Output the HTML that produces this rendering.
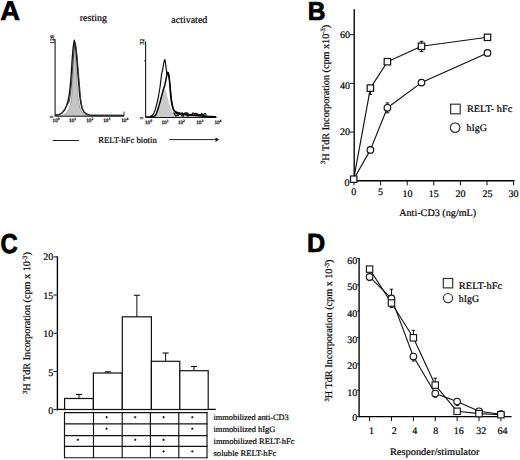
<!DOCTYPE html>
<html><head><meta charset="utf-8"><style>
html,body{margin:0;padding:0;background:#fff;}
body{width:520px;height:460px;overflow:hidden;}
svg{display:block;}
</style></head><body>
<svg width="520" height="460" viewBox="0 0 520 460" fill="#000" text-rendering="geometricPrecision">
<text font-size="27.10" font-family="'Liberation Sans', sans-serif" font-weight="bold" text-rendering="geometricPrecision" stroke="#000" stroke-width="0.69" stroke-linejoin="round" transform="translate(0.33 19.79) rotate(0.01) scale(1.012 1)">A</text>
<text font-size="25.94" font-family="'Liberation Sans', sans-serif" font-weight="bold" text-rendering="geometricPrecision" stroke="#000" stroke-width="0.74" stroke-linejoin="round" transform="translate(307.73 19.55) rotate(0.01) scale(0.948 1)">B</text>
<text font-size="27.32" font-family="'Liberation Sans', sans-serif" font-weight="bold" text-rendering="geometricPrecision" stroke="#000" stroke-width="0.80" stroke-linejoin="round" transform="translate(0.60 252.58) rotate(0.01) scale(0.873 1)">C</text>
<text font-size="26.23" font-family="'Liberation Sans', sans-serif" font-weight="bold" text-rendering="geometricPrecision" stroke="#000" stroke-width="0.73" stroke-linejoin="round" transform="translate(307.08 252.45) rotate(0.01) scale(0.962 1)">D</text>
<text x="79.8" y="20.7" font-size="10" text-anchor="start" font-family="'Liberation Serif', serif" font-weight="normal" textLength="27.1" lengthAdjust="spacingAndGlyphs" stroke="#000" stroke-width="0.2" >resting</text>
<text x="171.3" y="23.4" font-size="10" text-anchor="start" font-family="'Liberation Serif', serif" font-weight="normal" textLength="36" lengthAdjust="spacingAndGlyphs" stroke="#000" stroke-width="0.2" >activated</text>
<line x1="55.1" y1="39.3" x2="55.1" y2="116.1" stroke="#1a1a1a" stroke-width="1.1"/>
<line x1="55.1" y1="116.1" x2="124" y2="116.1" stroke="#1a1a1a" stroke-width="1.1"/>
<line x1="53.5" y1="39.3" x2="55.1" y2="39.3" stroke="#222" stroke-width="0.9"/>
<line x1="124" y1="116.1" x2="124" y2="111.6" stroke="#222" stroke-width="0.9"/>
<text x="0" y="0" font-size="5.60" font-family="'Liberation Serif', serif" stroke="#111" stroke-width="0.25" fill="#111" transform="translate(53.8 43.7) rotate(-90)" textLength="8.4" lengthAdjust="spacingAndGlyphs">128</text>
<text x="0" y="0" font-size="4.6" font-family="'Liberation Serif', serif" stroke="#222" stroke-width="0.2" fill="#222" transform="translate(52.5 117.89999999999999) rotate(-90)">0</text>
<text x="52.6" y="122.4" font-size="5.2" font-family="'Liberation Serif', serif" stroke="#222" stroke-width="0.3" fill="#222">10<tspan dy="-2" font-size="3.6">0</tspan></text>
<text x="69.0" y="122.4" font-size="5.2" font-family="'Liberation Serif', serif" stroke="#222" stroke-width="0.3" fill="#222">10<tspan dy="-2" font-size="3.6">1</tspan></text>
<text x="86.2" y="122.4" font-size="5.2" font-family="'Liberation Serif', serif" stroke="#222" stroke-width="0.3" fill="#222">10<tspan dy="-2" font-size="3.6">2</tspan></text>
<text x="103.2" y="122.4" font-size="5.2" font-family="'Liberation Serif', serif" stroke="#222" stroke-width="0.3" fill="#222">10<tspan dy="-2" font-size="3.6">3</tspan></text>
<text x="121.2" y="122.4" font-size="5.2" font-family="'Liberation Serif', serif" stroke="#222" stroke-width="0.3" fill="#222">10<tspan dy="-2" font-size="3.6">4</tspan></text>
<line x1="145.6" y1="41.4" x2="145.6" y2="117.4" stroke="#1a1a1a" stroke-width="1.1"/>
<line x1="145.6" y1="117.4" x2="216.6" y2="117.4" stroke="#1a1a1a" stroke-width="1.1"/>
<line x1="144.0" y1="60.9" x2="145.6" y2="60.9" stroke="#222" stroke-width="0.9"/>
<text x="0" y="0" font-size="6.00" font-family="'Liberation Serif', serif" stroke="#111" stroke-width="0.25" fill="#111" transform="translate(144.3 44.7) rotate(-90)" textLength="6.0" lengthAdjust="spacingAndGlyphs">32</text>
<text x="0" y="0" font-size="4.6" font-family="'Liberation Serif', serif" stroke="#222" stroke-width="0.2" fill="#222" transform="translate(143.0 119.2) rotate(-90)">0</text>
<text x="145.0" y="124.2" font-size="5.2" font-family="'Liberation Serif', serif" stroke="#222" stroke-width="0.3" fill="#222">10<tspan dy="-2" font-size="3.6">0</tspan></text>
<text x="161.5" y="124.2" font-size="5.2" font-family="'Liberation Serif', serif" stroke="#222" stroke-width="0.3" fill="#222">10<tspan dy="-2" font-size="3.6">1</tspan></text>
<text x="177.89999999999998" y="124.2" font-size="5.2" font-family="'Liberation Serif', serif" stroke="#222" stroke-width="0.3" fill="#222">10<tspan dy="-2" font-size="3.6">2</tspan></text>
<text x="196.2" y="124.2" font-size="5.2" font-family="'Liberation Serif', serif" stroke="#222" stroke-width="0.3" fill="#222">10<tspan dy="-2" font-size="3.6">3</tspan></text>
<text x="214.39999999999998" y="124.2" font-size="5.2" font-family="'Liberation Serif', serif" stroke="#222" stroke-width="0.3" fill="#222">10<tspan dy="-2" font-size="3.6">4</tspan></text>
<polygon points="62,115.6 66,113.5 68.5,110 70.5,104 71.8,95 72.6,82 73.3,65 73.9,50 74.4,42 75.1,48 75.8,60 76.6,76 77.4,90 78.4,100 79.7,107 81.5,111.5 84,114 88,115.6" fill="#c4c4c4" stroke="#777" stroke-width="0.5"/>
<polyline points="55.00,115.30 59.00,114.60 62.00,113.00 64.50,110.00 66.50,106.00 68.30,100.00 69.50,93.00 70.50,84.00 71.40,72.00 72.30,58.00 73.20,47.00 74.30,40.30 75.30,45.00 76.30,54.00 77.30,66.00 78.20,77.00 79.00,87.00 79.80,96.00 80.80,103.00 82.20,108.50 84.00,112.00 86.50,114.20 90.00,115.20 124.00,115.40" stroke="#111" stroke-width="1.4" fill="none" stroke-linejoin="round"/>
<polyline points="55.00,115.30 59.00,114.60 62.00,113.00 64.50,110.00 66.50,106.00 69.10,102.00 70.30,95.00 71.30,86.00 72.20,74.00 73.10,60.00 74.00,49.00 75.10,42.30 76.10,47.00 77.10,56.00 78.10,68.00 79.00,79.00 79.80,89.00 80.60,98.00 81.60,105.00 82.20,108.50 84.00,112.00 86.50,114.20 90.00,115.20 124.00,115.40" stroke="#333" stroke-width="0.9" fill="none" stroke-linejoin="round"/>
<polygon points="155.6,117 157.3,112 158.9,106.5 160.3,101.5 161.6,96.5 163.2,91 164.4,88.5 165.3,89.5 166.3,92.5 167.5,97 168.8,102 170.2,106.5 171.8,110.5 173.6,113.8 176,116 179,117" fill="#cbcbcb"/>
<polyline points="173.50,112.50 174.77,114.41 175.88,116.08 176.54,115.74 177.38,114.57 178.16,115.68 179.28,114.38 180.25,114.38 181.28,114.90 182.41,116.07 183.31,116.10 184.10,114.44 185.06,114.36 185.78,115.03 186.74,114.58 187.37,115.86 188.16,116.03 189.30,114.98 190.17,115.24 191.16,115.37 192.09,115.42 193.26,115.21 194.12,115.60 194.86,114.84 196.05,115.24 196.98,114.32 197.83,115.34 198.44,115.41 199.42,114.41 200.39,115.14 201.40,114.93 202.42,115.63 203.04,114.41 205.00,116.60" stroke="#111" stroke-width="1.3" fill="none" stroke-linejoin="round"/>
<polyline points="146.00,116.90 150.00,116.60 152.50,115.30 154.00,113.00 155.30,109.50 156.50,105.00 157.50,101.00 158.30,97.50 159.20,92.00 160.10,86.50 160.80,81.00 161.40,75.50 161.70,73.00 162.00,72.50 162.80,69.00 163.60,64.00 164.30,60.50 164.80,59.50 165.40,62.00 166.10,68.00 166.80,73.50 167.50,72.80 168.20,72.50 168.90,75.50 169.50,80.00 170.20,86.00 170.90,94.00 171.60,100.00 172.30,104.50 173.10,108.00 173.90,110.60 175.00,112.00 175.74,113.31 176.56,113.45 177.54,112.41 178.15,113.97 178.90,112.79 180.10,113.29 181.20,113.34 182.19,112.72 183.17,114.18 184.08,113.95 185.08,112.63 186.14,113.72 186.92,112.62 188.04,113.54 189.07,114.38 190.10,114.50 190.94,114.28 191.80,114.58 192.93,112.93 193.61,113.19 194.79,113.67 195.77,113.43 196.67,113.62 197.48,114.04 198.43,114.71 199.44,114.79 200.56,114.95 201.56,113.32 202.67,114.96 203.82,114.20 204.85,113.52 205.94,114.28 206.00,116.00 208.00,116.60 212.00,116.90 216.00,117.00" stroke="#111" stroke-width="1.2" fill="none" stroke-linejoin="round"/>
<polyline points="150.00,117.00 153.00,116.60 155.60,115.50 157.30,111.00 158.90,105.90 160.30,101.00 161.60,96.00 163.20,90.10 164.80,85.20 165.90,79.80 167.00,74.30 167.60,72.30 168.30,73.00 169.20,78.00 169.90,86.00 170.60,95.00 171.30,101.00 172.30,106.00 173.40,109.50 175.00,111.50 178.00,113.00 182.00,114.00 188.00,114.80 196.00,115.60 204.00,116.20 216.00,116.80" stroke="#000" stroke-width="1.5" fill="none" stroke-linejoin="round"/>
<line x1="52.8" y1="140.5" x2="78.8" y2="140.5" stroke="#222" stroke-width="1"/>
<text x="98.2" y="142.5" font-size="8.8" text-anchor="start" font-family="'Liberation Serif', serif" font-weight="normal" textLength="58.6" lengthAdjust="spacingAndGlyphs" stroke="#000" stroke-width="0.2" >RELT-hFc biotin</text>
<line x1="169.2" y1="139.6" x2="217" y2="139.6" stroke="#222" stroke-width="1"/>
<polygon points="215.5,137.3 219.3,139.6 215.5,141.9" fill="#222"/>
<line x1="354.2" y1="9.2" x2="354.2" y2="181.3" stroke="#000" stroke-width="1.35"/>
<line x1="353.5" y1="180.7" x2="514.5" y2="180.7" stroke="#000" stroke-width="1.35"/>
<line x1="350" y1="180.8" x2="354" y2="180.8" stroke="#111" stroke-width="1"/>
<line x1="350" y1="132.10000000000002" x2="354" y2="132.10000000000002" stroke="#111" stroke-width="1"/>
<line x1="350" y1="83.4" x2="354" y2="83.4" stroke="#111" stroke-width="1"/>
<line x1="350" y1="34.70000000000002" x2="354" y2="34.70000000000002" stroke="#111" stroke-width="1"/>
<text x="349.9" y="38.3" font-size="10" text-anchor="end" font-family="'Liberation Serif', serif" font-weight="normal" stroke="#000" stroke-width="0.2" >60</text>
<text x="349.9" y="88.7" font-size="10" text-anchor="end" font-family="'Liberation Serif', serif" font-weight="normal" stroke="#000" stroke-width="0.2" >40</text>
<text x="349.9" y="135.3" font-size="10" text-anchor="end" font-family="'Liberation Serif', serif" font-weight="normal" stroke="#000" stroke-width="0.2" >20</text>
<text x="349.6" y="186.2" font-size="10" text-anchor="end" font-family="'Liberation Serif', serif" font-weight="normal" stroke="#000" stroke-width="0.2" >0</text>
<line x1="354.0" y1="180.8" x2="354.0" y2="185.4" stroke="#111" stroke-width="1"/>
<line x1="380.6" y1="180.8" x2="380.6" y2="185.4" stroke="#111" stroke-width="1"/>
<line x1="407.2" y1="180.8" x2="407.2" y2="185.4" stroke="#111" stroke-width="1"/>
<line x1="433.8" y1="180.8" x2="433.8" y2="185.4" stroke="#111" stroke-width="1"/>
<line x1="460.4" y1="180.8" x2="460.4" y2="185.4" stroke="#111" stroke-width="1"/>
<line x1="487.0" y1="180.8" x2="487.0" y2="185.4" stroke="#111" stroke-width="1"/>
<line x1="513.6" y1="180.8" x2="513.6" y2="185.4" stroke="#111" stroke-width="1"/>
<text x="353.7" y="194.5" font-size="10" text-anchor="middle" font-family="'Liberation Serif', serif" font-weight="normal" stroke="#000" stroke-width="0.2" >0</text>
<text x="380.6" y="194.5" font-size="10" text-anchor="middle" font-family="'Liberation Serif', serif" font-weight="normal" stroke="#000" stroke-width="0.2" >5</text>
<text x="407.5" y="196.6" font-size="10" text-anchor="middle" font-family="'Liberation Serif', serif" font-weight="normal" stroke="#000" stroke-width="0.2" >10</text>
<text x="433.8" y="196.6" font-size="10" text-anchor="middle" font-family="'Liberation Serif', serif" font-weight="normal" stroke="#000" stroke-width="0.2" >15</text>
<text x="460.6" y="196.6" font-size="10" text-anchor="middle" font-family="'Liberation Serif', serif" font-weight="normal" stroke="#000" stroke-width="0.2" >20</text>
<text x="487.6" y="196.6" font-size="10" text-anchor="middle" font-family="'Liberation Serif', serif" font-weight="normal" stroke="#000" stroke-width="0.2" >25</text>
<text x="513.6" y="196.6" font-size="10" text-anchor="middle" font-family="'Liberation Serif', serif" font-weight="normal" stroke="#000" stroke-width="0.2" >30</text>
<text x="399.2" y="216.4" font-size="10" text-anchor="start" font-family="'Liberation Serif', serif" font-weight="normal" textLength="77" lengthAdjust="spacingAndGlyphs" stroke="#000" stroke-width="0.2" >Anti-CD3 (ng/mL)</text>
<text x="0" y="0" font-size="10" font-family="'Liberation Serif', serif" stroke="#000" stroke-width="0.2" transform="translate(328.7 164) rotate(-90)" textLength="139.2" lengthAdjust="spacingAndGlyphs"><tspan font-size="6.5" dy="-3.5">3</tspan><tspan dy="3.5">H TdR Incorporation (cpm x10</tspan><tspan font-size="6.5" dy="-3.5">-3</tspan><tspan dy="3.5">)</tspan></text>
<polyline points="353.70,179.20 370.40,88.10 387.40,61.70 421.50,46.30 487.50,37.30" stroke="#111" stroke-width="1.15" fill="none" stroke-linejoin="round"/>
<polyline points="353.70,179.20 370.40,149.90 387.40,107.80 421.50,82.60 487.50,52.90" stroke="#111" stroke-width="1.15" fill="none" stroke-linejoin="round"/>
<line x1="370.4" y1="88.1" x2="370.4" y2="94.4" stroke="#111" stroke-width="1"/>
<line x1="368.7" y1="94.4" x2="372.09999999999997" y2="94.4" stroke="#111" stroke-width="1"/>
<line x1="421.5" y1="46.3" x2="421.5" y2="41.3" stroke="#111" stroke-width="1"/>
<line x1="419.6" y1="41.3" x2="423.4" y2="41.3" stroke="#111" stroke-width="1"/>
<line x1="421.5" y1="46.3" x2="421.5" y2="51.5" stroke="#111" stroke-width="1"/>
<line x1="419.6" y1="51.5" x2="423.4" y2="51.5" stroke="#111" stroke-width="1"/>
<line x1="387.4" y1="107.8" x2="387.4" y2="102.9" stroke="#111" stroke-width="1"/>
<line x1="385.59999999999997" y1="102.9" x2="389.2" y2="102.9" stroke="#111" stroke-width="1"/>
<line x1="387.4" y1="107.8" x2="387.4" y2="112.8" stroke="#111" stroke-width="1"/>
<line x1="385.59999999999997" y1="112.8" x2="389.2" y2="112.8" stroke="#111" stroke-width="1"/>
<rect x="350.50" y="176.00" width="6.4" height="6.4" fill="#fff" stroke="#111" stroke-width="1.2"/>
<rect x="367.20" y="84.90" width="6.4" height="6.4" fill="#fff" stroke="#111" stroke-width="1.2"/>
<rect x="384.20" y="58.50" width="6.4" height="6.4" fill="#fff" stroke="#111" stroke-width="1.2"/>
<rect x="418.30" y="43.10" width="6.4" height="6.4" fill="#fff" stroke="#111" stroke-width="1.2"/>
<rect x="484.30" y="34.10" width="6.4" height="6.4" fill="#fff" stroke="#111" stroke-width="1.2"/>
<circle cx="370.40" cy="149.90" r="3.3" fill="#fff" stroke="#111" stroke-width="1.2"/>
<circle cx="387.40" cy="107.80" r="3.3" fill="#fff" stroke="#111" stroke-width="1.2"/>
<circle cx="421.50" cy="82.60" r="3.3" fill="#fff" stroke="#111" stroke-width="1.2"/>
<circle cx="487.50" cy="52.90" r="3.3" fill="#fff" stroke="#111" stroke-width="1.2"/>
<rect x="450.60" y="104.20" width="9.6" height="9.6" fill="#fff" stroke="#333" stroke-width="1.2"/>
<text x="466.9" y="112.2" font-size="10" text-anchor="start" font-family="'Liberation Serif', serif" font-weight="normal" textLength="45.4" lengthAdjust="spacingAndGlyphs" stroke="#000" stroke-width="0.2" >RELT- hFc</text>
<circle cx="455.10" cy="127.60" r="4.8" fill="#fff" stroke="#333" stroke-width="1.2"/>
<text x="466.5" y="130.7" font-size="10" text-anchor="start" font-family="'Liberation Serif', serif" font-weight="normal" textLength="20.5" lengthAdjust="spacingAndGlyphs" stroke="#000" stroke-width="0.2" >hIgG</text>
<line x1="57.4" y1="256.3" x2="57.4" y2="410.4" stroke="#000" stroke-width="1.35"/>
<line x1="56.8" y1="409.4" x2="215.8" y2="409.4" stroke="#000" stroke-width="1.3"/>
<line x1="53.5" y1="409.6" x2="57.4" y2="409.6" stroke="#111" stroke-width="1"/>
<line x1="53.5" y1="371.425" x2="57.4" y2="371.425" stroke="#111" stroke-width="1"/>
<line x1="53.5" y1="333.25" x2="57.4" y2="333.25" stroke="#111" stroke-width="1"/>
<line x1="53.5" y1="295.07500000000005" x2="57.4" y2="295.07500000000005" stroke="#111" stroke-width="1"/>
<line x1="53.5" y1="256.90000000000003" x2="57.4" y2="256.90000000000003" stroke="#111" stroke-width="1"/>
<text x="53.3" y="260.0" font-size="10" text-anchor="end" font-family="'Liberation Serif', serif" font-weight="normal" stroke="#000" stroke-width="0.2" >20</text>
<text x="53.3" y="298.5" font-size="10" text-anchor="end" font-family="'Liberation Serif', serif" font-weight="normal" stroke="#000" stroke-width="0.2" >15</text>
<text x="53.3" y="337.2" font-size="10" text-anchor="end" font-family="'Liberation Serif', serif" font-weight="normal" stroke="#000" stroke-width="0.2" >10</text>
<text x="53.3" y="376.1" font-size="10" text-anchor="end" font-family="'Liberation Serif', serif" font-weight="normal" stroke="#000" stroke-width="0.2" >5</text>
<text x="53.3" y="414.3" font-size="10" text-anchor="end" font-family="'Liberation Serif', serif" font-weight="normal" stroke="#000" stroke-width="0.2" >0</text>
<rect x="64.6" y="398.5" width="28.80000000000001" height="11.0" fill="#fff" stroke="#111" stroke-width="1.2"/>
<line x1="79.0" y1="398.5" x2="79.0" y2="394.4" stroke="#111" stroke-width="1"/>
<line x1="76.0" y1="394.4" x2="82.0" y2="394.4" stroke="#111" stroke-width="1.1"/>
<rect x="93.4" y="373" width="28.89999999999999" height="36.5" fill="#fff" stroke="#111" stroke-width="1.2"/>
<line x1="107.85" y1="373" x2="107.85" y2="371.8" stroke="#111" stroke-width="1"/>
<line x1="104.85" y1="371.8" x2="110.85" y2="371.8" stroke="#111" stroke-width="1.1"/>
<rect x="122.3" y="316.8" width="29.10000000000001" height="92.69999999999999" fill="#fff" stroke="#111" stroke-width="1.2"/>
<line x1="136.85" y1="316.8" x2="136.85" y2="295.3" stroke="#111" stroke-width="1"/>
<line x1="133.85" y1="295.3" x2="139.85" y2="295.3" stroke="#111" stroke-width="1.1"/>
<rect x="151.4" y="361.3" width="28.400000000000006" height="48.19999999999999" fill="#fff" stroke="#111" stroke-width="1.2"/>
<line x1="165.60000000000002" y1="361.3" x2="165.60000000000002" y2="353" stroke="#111" stroke-width="1"/>
<line x1="162.60000000000002" y1="353" x2="168.60000000000002" y2="353" stroke="#111" stroke-width="1.1"/>
<rect x="179.8" y="370.7" width="28.399999999999977" height="38.80000000000001" fill="#fff" stroke="#111" stroke-width="1.2"/>
<line x1="194.0" y1="370.7" x2="194.0" y2="366.5" stroke="#111" stroke-width="1"/>
<line x1="191.0" y1="366.5" x2="197.0" y2="366.5" stroke="#111" stroke-width="1.1"/>
<line x1="64.5" y1="412.1" x2="64.5" y2="458.2" stroke="#111" stroke-width="1.15"/>
<line x1="93.5" y1="412.1" x2="93.5" y2="458.2" stroke="#111" stroke-width="1.15"/>
<line x1="122.2" y1="412.1" x2="122.2" y2="458.2" stroke="#111" stroke-width="1.15"/>
<line x1="150.4" y1="412.1" x2="150.4" y2="458.2" stroke="#111" stroke-width="1.15"/>
<line x1="178.8" y1="412.1" x2="178.8" y2="458.2" stroke="#111" stroke-width="1.15"/>
<line x1="207.0" y1="412.1" x2="207.0" y2="458.2" stroke="#111" stroke-width="1.15"/>
<line x1="64.0" y1="412.6" x2="207.5" y2="412.6" stroke="#111" stroke-width="1.15"/>
<line x1="64.0" y1="423.9" x2="207.5" y2="423.9" stroke="#111" stroke-width="1.15"/>
<line x1="64.0" y1="435.6" x2="207.5" y2="435.6" stroke="#111" stroke-width="1.15"/>
<line x1="64.0" y1="446.3" x2="207.5" y2="446.3" stroke="#111" stroke-width="1.15"/>
<line x1="64.0" y1="457.7" x2="207.5" y2="457.7" stroke="#111" stroke-width="1.15"/>
<line x1="105.39999999999999" y1="417.2" x2="107.8" y2="417.2" stroke="#111" stroke-width="0.9"/>
<line x1="106.6" y1="416.0" x2="106.6" y2="418.4" stroke="#111" stroke-width="0.9"/>
<line x1="134.0" y1="417.2" x2="136.39999999999998" y2="417.2" stroke="#111" stroke-width="0.9"/>
<line x1="135.2" y1="416.0" x2="135.2" y2="418.4" stroke="#111" stroke-width="0.9"/>
<line x1="162.4" y1="417.2" x2="164.79999999999998" y2="417.2" stroke="#111" stroke-width="0.9"/>
<line x1="163.6" y1="416.0" x2="163.6" y2="418.4" stroke="#111" stroke-width="0.9"/>
<line x1="191.10000000000002" y1="417.2" x2="193.5" y2="417.2" stroke="#111" stroke-width="0.9"/>
<line x1="192.3" y1="416.0" x2="192.3" y2="418.4" stroke="#111" stroke-width="0.9"/>
<line x1="105.39999999999999" y1="428.7" x2="107.8" y2="428.7" stroke="#111" stroke-width="0.9"/>
<line x1="106.6" y1="427.5" x2="106.6" y2="429.9" stroke="#111" stroke-width="0.9"/>
<line x1="191.10000000000002" y1="428.7" x2="193.5" y2="428.7" stroke="#111" stroke-width="0.9"/>
<line x1="192.3" y1="427.5" x2="192.3" y2="429.9" stroke="#111" stroke-width="0.9"/>
<line x1="76.7" y1="439.8" x2="79.10000000000001" y2="439.8" stroke="#111" stroke-width="0.9"/>
<line x1="77.9" y1="438.6" x2="77.9" y2="441.0" stroke="#111" stroke-width="0.9"/>
<line x1="134.0" y1="439.8" x2="136.39999999999998" y2="439.8" stroke="#111" stroke-width="0.9"/>
<line x1="135.2" y1="438.6" x2="135.2" y2="441.0" stroke="#111" stroke-width="0.9"/>
<line x1="162.4" y1="439.8" x2="164.79999999999998" y2="439.8" stroke="#111" stroke-width="0.9"/>
<line x1="163.6" y1="438.6" x2="163.6" y2="441.0" stroke="#111" stroke-width="0.9"/>
<line x1="162.4" y1="451.4" x2="164.79999999999998" y2="451.4" stroke="#111" stroke-width="0.9"/>
<line x1="163.6" y1="450.2" x2="163.6" y2="452.59999999999997" stroke="#111" stroke-width="0.9"/>
<line x1="191.10000000000002" y1="451.4" x2="193.5" y2="451.4" stroke="#111" stroke-width="0.9"/>
<line x1="192.3" y1="450.2" x2="192.3" y2="452.59999999999997" stroke="#111" stroke-width="0.9"/>
<text x="213.5" y="420" font-size="8.3" text-anchor="start" font-family="'Liberation Serif', serif" font-weight="normal" textLength="75.3" lengthAdjust="spacingAndGlyphs" stroke="#000" stroke-width="0.2" >immobilized anti-CD3</text>
<text x="213.5" y="432.3" font-size="8.3" text-anchor="start" font-family="'Liberation Serif', serif" font-weight="normal" textLength="61.9" lengthAdjust="spacingAndGlyphs" stroke="#000" stroke-width="0.2" >immobilized hIgG</text>
<text x="213.5" y="444.2" font-size="8.3" text-anchor="start" font-family="'Liberation Serif', serif" font-weight="normal" textLength="81.1" lengthAdjust="spacingAndGlyphs" stroke="#000" stroke-width="0.2" >immobilized RELT-hFc</text>
<text x="213.5" y="455.8" font-size="8.3" text-anchor="start" font-family="'Liberation Serif', serif" font-weight="normal" textLength="62.8" lengthAdjust="spacingAndGlyphs" stroke="#000" stroke-width="0.2" >soluble RELT-hFc</text>
<text x="0" y="0" font-size="10" font-family="'Liberation Serif', serif" stroke="#000" stroke-width="0.2" transform="translate(30.3 394) rotate(-90)" textLength="141.8" lengthAdjust="spacingAndGlyphs"><tspan font-size="6.5" dy="-3.5">3</tspan><tspan dy="3.5">H TdR Incorporation (cpm x 10</tspan><tspan font-size="6.5" dy="-3.5">-3</tspan><tspan dy="3.5">)</tspan></text>
<line x1="359.1" y1="258.0" x2="359.1" y2="417.2" stroke="#000" stroke-width="1.35"/>
<line x1="358.5" y1="416.6" x2="511.6" y2="416.6" stroke="#000" stroke-width="1.35"/>
<line x1="357.2" y1="416.5" x2="359.2" y2="416.5" stroke="#111" stroke-width="1"/>
<text x="357.2" y="420.7" font-size="10" text-anchor="end" font-family="'Liberation Serif', serif" font-weight="normal" stroke="#000" stroke-width="0.2" >0</text>
<line x1="357.2" y1="390.15" x2="359.2" y2="390.15" stroke="#111" stroke-width="1"/>
<text x="357.2" y="395.54999999999995" font-size="10" text-anchor="end" font-family="'Liberation Serif', serif" font-weight="normal" stroke="#000" stroke-width="0.2" >10</text>
<line x1="357.2" y1="363.8" x2="359.2" y2="363.8" stroke="#111" stroke-width="1"/>
<text x="357.2" y="369.2" font-size="10" text-anchor="end" font-family="'Liberation Serif', serif" font-weight="normal" stroke="#000" stroke-width="0.2" >20</text>
<line x1="357.2" y1="337.45" x2="359.2" y2="337.45" stroke="#111" stroke-width="1"/>
<text x="357.2" y="342.84999999999997" font-size="10" text-anchor="end" font-family="'Liberation Serif', serif" font-weight="normal" stroke="#000" stroke-width="0.2" >30</text>
<line x1="357.2" y1="311.1" x2="359.2" y2="311.1" stroke="#111" stroke-width="1"/>
<text x="357.2" y="316.5" font-size="10" text-anchor="end" font-family="'Liberation Serif', serif" font-weight="normal" stroke="#000" stroke-width="0.2" >40</text>
<line x1="357.2" y1="284.75" x2="359.2" y2="284.75" stroke="#111" stroke-width="1"/>
<text x="357.2" y="290.15" font-size="10" text-anchor="end" font-family="'Liberation Serif', serif" font-weight="normal" stroke="#000" stroke-width="0.2" >50</text>
<line x1="357.2" y1="258.4" x2="359.2" y2="258.4" stroke="#111" stroke-width="1"/>
<text x="357.2" y="263.79999999999995" font-size="10" text-anchor="end" font-family="'Liberation Serif', serif" font-weight="normal" stroke="#000" stroke-width="0.2" >60</text>
<line x1="369.6" y1="416.5" x2="369.6" y2="421.2" stroke="#111" stroke-width="1"/>
<text x="371.5" y="433.5" font-size="10" text-anchor="middle" font-family="'Liberation Serif', serif" font-weight="normal" stroke="#000" stroke-width="0.2" >1</text>
<line x1="391.48" y1="416.5" x2="391.48" y2="421.2" stroke="#111" stroke-width="1"/>
<text x="394.3" y="433.5" font-size="10" text-anchor="middle" font-family="'Liberation Serif', serif" font-weight="normal" stroke="#000" stroke-width="0.2" >2</text>
<line x1="413.36" y1="416.5" x2="413.36" y2="421.2" stroke="#111" stroke-width="1"/>
<text x="414.8" y="433.5" font-size="10" text-anchor="middle" font-family="'Liberation Serif', serif" font-weight="normal" stroke="#000" stroke-width="0.2" >4</text>
<line x1="435.24" y1="416.5" x2="435.24" y2="421.2" stroke="#111" stroke-width="1"/>
<text x="435.8" y="433.5" font-size="10" text-anchor="middle" font-family="'Liberation Serif', serif" font-weight="normal" stroke="#000" stroke-width="0.2" >8</text>
<line x1="457.12" y1="416.5" x2="457.12" y2="421.2" stroke="#111" stroke-width="1"/>
<text x="458.8" y="433.5" font-size="10" text-anchor="middle" font-family="'Liberation Serif', serif" font-weight="normal" stroke="#000" stroke-width="0.2" >16</text>
<line x1="479.0" y1="416.5" x2="479.0" y2="421.2" stroke="#111" stroke-width="1"/>
<text x="481.3" y="433.5" font-size="10" text-anchor="middle" font-family="'Liberation Serif', serif" font-weight="normal" stroke="#000" stroke-width="0.2" >32</text>
<line x1="500.88" y1="416.5" x2="500.88" y2="421.2" stroke="#111" stroke-width="1"/>
<text x="502.4" y="433.5" font-size="10" text-anchor="middle" font-family="'Liberation Serif', serif" font-weight="normal" stroke="#000" stroke-width="0.2" >64</text>
<text x="389.9" y="454.7" font-size="10" text-anchor="start" font-family="'Liberation Serif', serif" font-weight="normal" textLength="89.6" lengthAdjust="spacingAndGlyphs" stroke="#000" stroke-width="0.2" >Responder/stimulator</text>
<text x="0" y="0" font-size="10" font-family="'Liberation Serif', serif" stroke="#000" stroke-width="0.2" transform="translate(332.1 401.5) rotate(-90)" textLength="141.9" lengthAdjust="spacingAndGlyphs"><tspan font-size="6.5" dy="-3.5">3</tspan><tspan dy="3.5">H TdR Incorporation (cpm x 10</tspan><tspan font-size="6.5" dy="-3.5">-3</tspan><tspan dy="3.5">)</tspan></text>
<polyline points="369.60,269.10 391.48,303.00 413.36,337.80 435.24,385.10 457.12,411.30 479.00,413.60 500.88,414.70" stroke="#111" stroke-width="1.1" fill="none" stroke-linejoin="round"/>
<polyline points="369.60,276.90 391.48,298.40 413.36,356.50 435.24,393.50 457.12,401.50 479.00,411.30 500.88,414.20" stroke="#111" stroke-width="1.1" fill="none" stroke-linejoin="round"/>
<line x1="391.48" y1="303" x2="391.48" y2="289.2" stroke="#111" stroke-width="1"/>
<line x1="389.73" y1="289.2" x2="393.23" y2="289.2" stroke="#111" stroke-width="1"/>
<line x1="413.36" y1="337.8" x2="413.36" y2="330.3" stroke="#111" stroke-width="1"/>
<line x1="411.61" y1="330.3" x2="415.11" y2="330.3" stroke="#111" stroke-width="1"/>
<line x1="413.36" y1="356.5" x2="413.36" y2="361" stroke="#111" stroke-width="1"/>
<line x1="411.61" y1="361" x2="415.11" y2="361" stroke="#111" stroke-width="1"/>
<line x1="435.24" y1="385.1" x2="435.24" y2="378.2" stroke="#111" stroke-width="1"/>
<line x1="433.49" y1="378.2" x2="436.99" y2="378.2" stroke="#111" stroke-width="1"/>
<line x1="369.6" y1="276.9" x2="369.6" y2="280.6" stroke="#111" stroke-width="1"/>
<line x1="367.85" y1="280.6" x2="371.35" y2="280.6" stroke="#111" stroke-width="1"/>
<line x1="391.48" y1="303" x2="391.48" y2="307.6" stroke="#111" stroke-width="1"/>
<line x1="389.73" y1="307.6" x2="393.23" y2="307.6" stroke="#111" stroke-width="1"/>
<line x1="435.24" y1="393.5" x2="435.24" y2="397.2" stroke="#111" stroke-width="1"/>
<line x1="433.49" y1="397.2" x2="436.99" y2="397.2" stroke="#111" stroke-width="1"/>
<line x1="457.12" y1="401.5" x2="457.12" y2="405.5" stroke="#111" stroke-width="1"/>
<line x1="455.62" y1="405.5" x2="458.62" y2="405.5" stroke="#111" stroke-width="1"/>
<circle cx="369.60" cy="276.90" r="3.3" fill="#fff" stroke="#111" stroke-width="1.1"/>
<circle cx="391.48" cy="298.40" r="3.3" fill="#fff" stroke="#111" stroke-width="1.1"/>
<circle cx="413.36" cy="356.50" r="3.3" fill="#fff" stroke="#111" stroke-width="1.1"/>
<circle cx="435.24" cy="393.50" r="3.3" fill="#fff" stroke="#111" stroke-width="1.1"/>
<circle cx="457.12" cy="401.50" r="3.3" fill="#fff" stroke="#111" stroke-width="1.1"/>
<circle cx="479.00" cy="411.30" r="3.3" fill="#fff" stroke="#111" stroke-width="1.1"/>
<circle cx="500.88" cy="414.20" r="3.3" fill="#fff" stroke="#111" stroke-width="1.1"/>
<rect x="366.40" y="265.90" width="6.4" height="6.4" fill="#fff" stroke="#111" stroke-width="1.1"/>
<rect x="388.28" y="299.80" width="6.4" height="6.4" fill="#fff" stroke="#111" stroke-width="1.1"/>
<rect x="410.16" y="334.60" width="6.4" height="6.4" fill="#fff" stroke="#111" stroke-width="1.1"/>
<rect x="432.04" y="381.90" width="6.4" height="6.4" fill="#fff" stroke="#111" stroke-width="1.1"/>
<rect x="453.92" y="408.10" width="6.4" height="6.4" fill="#fff" stroke="#111" stroke-width="1.1"/>
<rect x="475.80" y="410.40" width="6.4" height="6.4" fill="#fff" stroke="#111" stroke-width="1.1"/>
<rect x="497.68" y="411.50" width="6.4" height="6.4" fill="#fff" stroke="#111" stroke-width="1.1"/>
<rect x="443.30" y="278.50" width="9.4" height="9.4" fill="#fff" stroke="#333" stroke-width="1.2"/>
<text x="458.8" y="288.5" font-size="10" text-anchor="start" font-family="'Liberation Serif', serif" font-weight="normal" textLength="43.3" lengthAdjust="spacingAndGlyphs" stroke="#000" stroke-width="0.2" >RELT-hFc</text>
<circle cx="448.00" cy="298.10" r="4.6" fill="#fff" stroke="#333" stroke-width="1.2"/>
<text x="458.8" y="302" font-size="10" text-anchor="start" font-family="'Liberation Serif', serif" font-weight="normal" textLength="20.2" lengthAdjust="spacingAndGlyphs" stroke="#000" stroke-width="0.2" >hIgG</text>
</svg>
</body></html>
